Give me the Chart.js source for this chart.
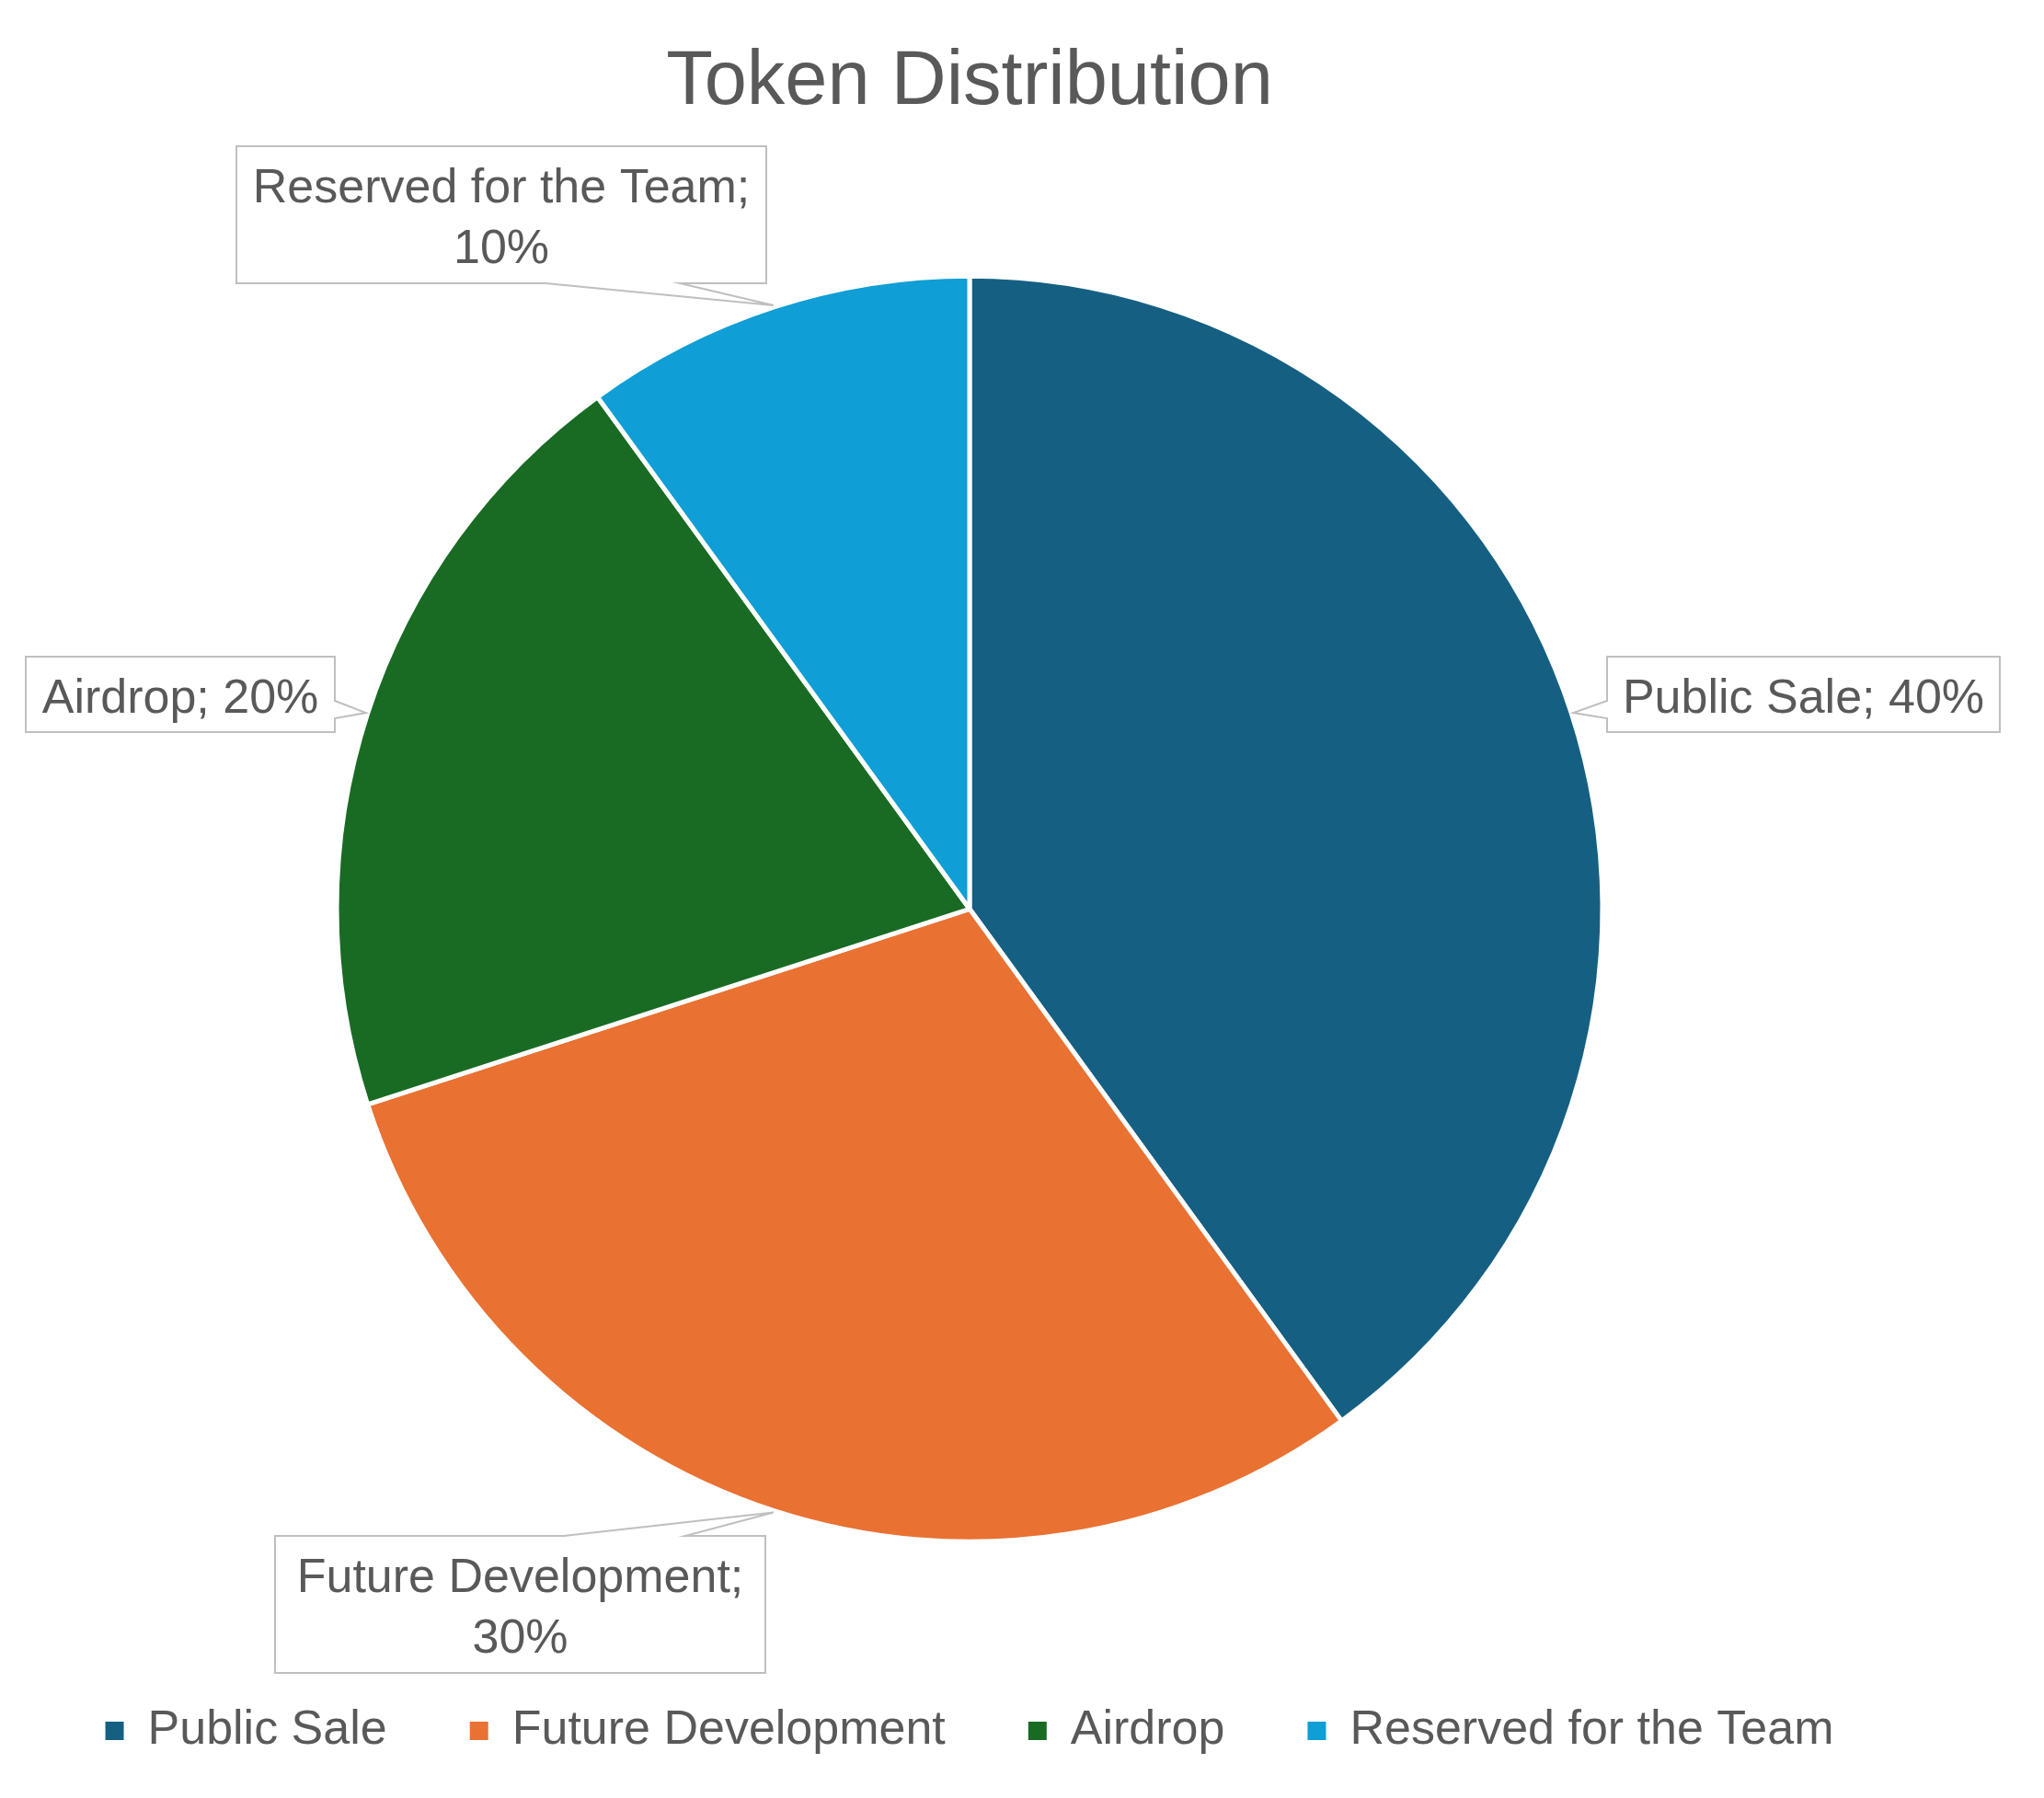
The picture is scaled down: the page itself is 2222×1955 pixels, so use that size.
<!DOCTYPE html>
<html>
<head>
<meta charset="utf-8">
<title>Token Distribution</title>
<script src="https://cdn.jsdelivr.net/npm/chart.js@4.4.1/dist/chart.umd.min.js"></script>
<style>
  html, body { margin: 0; padding: 0; background: #fff; }
  #wrap { width: 2222px; height: 1955px; position: relative; }
</style>
</head>
<body>
<div id="wrap"><canvas id="pie"></canvas></div>
<script>
// ── Data ─────────────────────────────────────────────
const CATEGORIES = ['Public Sale', 'Future Development', 'Airdrop', 'Reserved for the Team'];
const SHARES     = [40, 30, 20, 10];
const COLORS     = ['#156082', '#E97132', '#196B24', '#0F9ED5'];

const TEXT_COLOR = '#595959';
const FONT = '"Liberation Sans", Arial, sans-serif';

// callout boxes (layout only), one per slice, in data order
const CALLOUTS = [
  { x: 1747, y: 714,  w: 427, h: 82,  side: 'left',   base: [762, 781], lines: 1 },
  { x: 299,  y: 1670, w: 533, h: 149, side: 'top',    base: [613, 745], lines: 2 },
  { x: 28,   y: 714,  w: 336, h: 82,  side: 'right',  base: [762, 781], lines: 1 },
  { x: 257,  y: 159,  w: 576, h: 149, side: 'bottom', base: [593, 739], lines: 2 },
];

const calloutPlugin = {
  id: 'callouts',
  afterDatasetsDraw(chart) {
    const ctx = chart.ctx;
    const meta = chart.getDatasetMeta(0);
    const ds = chart.data.datasets[0];
    meta.data.forEach((arc, i) => {
      const c = CALLOUTS[i];
      if (!c) return;
      const p = arc.getProps(['x', 'y', 'startAngle', 'endAngle', 'outerRadius'], true);
      const mid = (p.startAngle + p.endAngle) / 2;
      const tx = p.x + Math.cos(mid) * (p.outerRadius + 2);
      const ty = p.y + Math.sin(mid) * (p.outerRadius + 2);
      const L = c.x, T = c.y, R = c.x + c.w, B = c.y + c.h;

      ctx.save();
      ctx.beginPath();
      ctx.moveTo(L, T);
      if (c.side === 'top') { ctx.lineTo(c.base[0], T); ctx.lineTo(tx, ty); ctx.lineTo(c.base[1], T); }
      ctx.lineTo(R, T);
      if (c.side === 'right') { ctx.lineTo(R, c.base[0]); ctx.lineTo(tx, ty); ctx.lineTo(R, c.base[1]); }
      ctx.lineTo(R, B);
      if (c.side === 'bottom') { ctx.lineTo(c.base[1], B); ctx.lineTo(tx, ty); ctx.lineTo(c.base[0], B); }
      ctx.lineTo(L, B);
      if (c.side === 'left') { ctx.lineTo(L, c.base[1]); ctx.lineTo(tx, ty); ctx.lineTo(L, c.base[0]); }
      ctx.closePath();
      ctx.fillStyle = '#ffffff';
      ctx.fill();
      ctx.lineWidth = 2;
      ctx.strokeStyle = '#BFBFBF';
      ctx.lineJoin = 'miter';
      ctx.stroke();

      // label text
      const size = 52;
      ctx.font = `${size}px ${FONT}`;
      ctx.fillStyle = TEXT_COLOR;
      ctx.textAlign = 'center';
      ctx.textBaseline = 'alphabetic';
      const label = chart.data.labels[i];
      const val = ds.data[i] + '%';
      const lines = c.lines === 2 ? [label + ';', val] : [label + '; ' + val];
      const lh = 66;
      const cx = (L + R) / 2;
      const cy = (T + B) / 2 + 1;
      lines.forEach((t, k) => {
        const y = cy + (k - (lines.length - 1) / 2) * lh + size * 0.36;
        ctx.fillText(t, cx, y);
      });
      ctx.restore();
    });
  },
};

const pieCtx = document.getElementById('pie');
new Chart(pieCtx, {
  type: 'pie',
  data: {
    labels: CATEGORIES,
    datasets: [{
      data: SHARES,
      backgroundColor: COLORS,
      borderColor: '#ffffff',
      borderWidth: 5,
      radius: 688,
    }],
  },
  options: {
    responsive: true,
    maintainAspectRatio: false,
    animation: false,
    layout: { padding: { left: 0, right: 114, top: 0, bottom: 37 } },
    plugins: {
      title: {
        display: true,
        text: 'Token Distribution',
        color: TEXT_COLOR,
        font: { family: FONT, size: 83, weight: 'normal' },
        padding: { top: 40, bottom: 71 },
      },
      legend: {
        position: 'bottom',
        labels: {
          color: TEXT_COLOR,
          font: { family: FONT, size: 52 },
          boxWidth: 20,
          boxHeight: 20,
          padding: 90,
          // plain filled squares, without the white slice border
          generateLabels: chart =>
            Chart.overrides.pie.plugins.legend.labels.generateLabels(chart)
              .map(item => ({ ...item, lineWidth: 0, strokeStyle: item.fillStyle })),
        },
      },
      tooltip: { enabled: false },
    },
  },
  plugins: [calloutPlugin],
});
</script>
</body>
</html>
